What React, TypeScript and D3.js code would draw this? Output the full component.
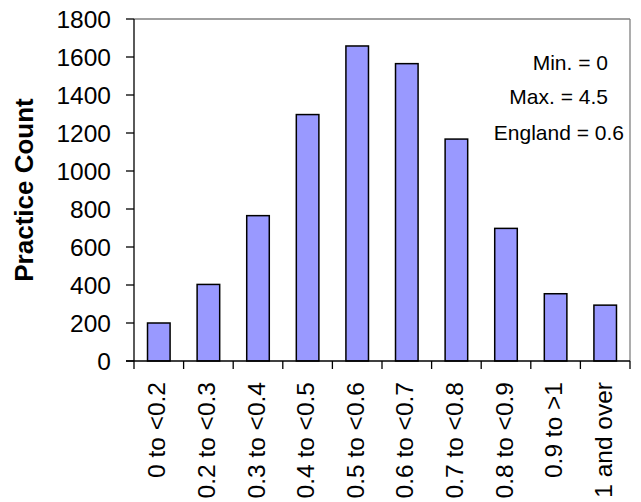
import React from "react";
import * as d3 from "d3";

const categories = [
  "0 to <0.2",
  "0.2 to <0.3",
  "0.3 to <0.4",
  "0.4 to <0.5",
  "0.5 to <0.6",
  "0.6 to <0.7",
  "0.7 to <0.8",
  "0.8 to <0.9",
  "0.9 to >1",
  "1 and over",
];
const counts = [200, 403, 765, 1297, 1658, 1565, 1168, 698, 354, 294];
const yTicks = [0, 200, 400, 600, 800, 1000, 1200, 1400, 1600, 1800];
const notes = ["Min. = 0", "Max. = 4.5", "England = 0.6"];

const W = 641;
const H = 502;
const plot = { left: 134, right: 630, top: 19, bottom: 361 };
const FONT = "Liberation Sans, Arial, Helvetica, sans-serif";

export default function App() {
  const x = d3
    .scaleBand<string>()
    .domain(categories)
    .range([plot.left, plot.right])
    .paddingInner(0.545)
    .paddingOuter(0.2725);
  const step = (plot.right - plot.left) / categories.length;
  const y = d3.scaleLinear().domain([0, 1800]).range([plot.bottom, plot.top]);

  const noteX = [608, 608, 624];
  const noteY = [70, 104, 140];

  return (
    <svg
      width={W}
      height={H}
      style={{ position: "absolute", left: 0, top: 0, background: "#fff" }}
      fontFamily={FONT}
    >
      {/* plot frame top & right */}
      <line x1={plot.left} x2={plot.right} y1={plot.top} y2={plot.top} stroke="#808080" strokeWidth={1.3} />
      <line x1={plot.right} x2={plot.right} y1={plot.top} y2={plot.bottom} stroke="#808080" strokeWidth={1.3} />

      {/* bars */}
      {categories.map((c, i) => (
        <rect
          key={c}
          x={x(c)}
          y={y(counts[i])}
          width={x.bandwidth()}
          height={y(0) - y(counts[i])}
          fill="#9999FF"
          stroke="#000"
          strokeWidth={1.5}
        />
      ))}

      {/* y axis */}
      <line x1={plot.left} x2={plot.left} y1={plot.top} y2={plot.bottom} stroke="#000" strokeWidth={1.3} />
      {yTicks.map((t) => (
        <g key={t}>
          <line x1={plot.left - 8} x2={plot.left} y1={y(t)} y2={y(t)} stroke="#000" strokeWidth={1.3} />
          <text x={111} y={y(t)} dy="0.36em" textAnchor="end" fontSize={24.5} fill="#000">
            {t}
          </text>
        </g>
      ))}

      {/* x axis */}
      <line x1={plot.left - 8} x2={plot.right} y1={plot.bottom} y2={plot.bottom} stroke="#000" strokeWidth={1.3} />
      {d3.range(categories.length + 1).map((i) => (
        <line
          key={i}
          x1={plot.left + i * step}
          x2={plot.left + i * step}
          y1={plot.bottom}
          y2={plot.bottom + 8}
          stroke="#000"
          strokeWidth={1.3}
        />
      ))}
      {categories.map((c) => {
        const cx = (x(c) as number) + x.bandwidth() / 2 - 2;
        return (
          <text
            key={c}
            transform={`translate(${cx},382) rotate(-90)`}
            dy="0.35em"
            textAnchor="end"
            fontSize={24.5}
            fill="#000"
          >
            {c}
          </text>
        );
      })}

      {/* y title */}
      <text
        transform={`translate(24,190) rotate(-90)`}
        dy="0.36em"
        textAnchor="middle"
        fontSize={26}
        fontWeight="bold"
        fill="#000"
      >
        Practice Count
      </text>

      {/* annotations */}
      {notes.map((n, i) => (
        <text key={n} x={noteX[i]} y={noteY[i]} textAnchor="end" fontSize={21} fill="#000">
          {n}
        </text>
      ))}
    </svg>
  );
}
